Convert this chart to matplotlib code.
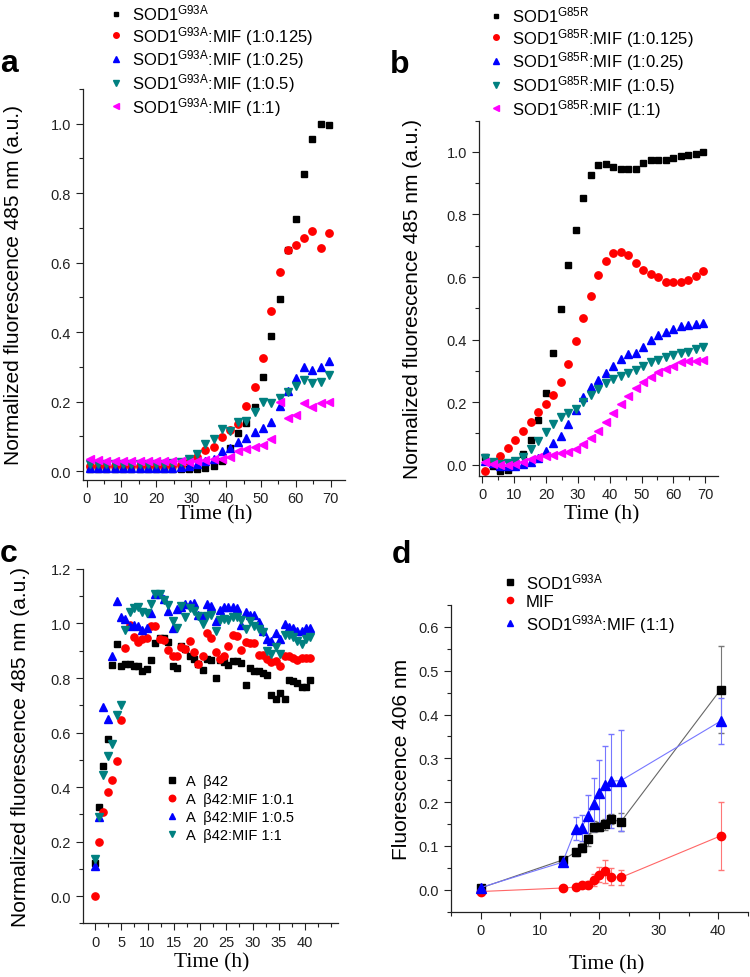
import matplotlib
matplotlib.use('Agg')
import matplotlib.pyplot as plt
from matplotlib.ticker import MultipleLocator, FormatStrFormatter

plt.rcParams['font.family'] = ['Liberation Sans', 'DejaVu Sans']
plt.rcParams['mathtext.fontset'] = 'custom'
plt.rcParams['mathtext.rm'] = 'Liberation Sans'
plt.rcParams['mathtext.it'] = 'Liberation Sans:italic'
plt.rcParams['mathtext.bf'] = 'Liberation Sans:bold'

# ---- panels a and b: sampling times (h)
time_ab = [1.0, 3.4, 5.7, 8.1, 10.4, 12.8, 15.2, 17.5, 19.9, 22.2,
           24.6, 27.0, 29.3, 31.7, 34.0, 36.4, 38.8, 41.1, 43.5, 45.8,
           48.2, 50.6, 52.9, 55.3, 57.6, 60.0, 62.4, 64.7, 67.1, 69.4]

# panel a: SOD1 G93A
a_sod = [0.007, 0.007, 0.007, 0.007, 0.007, 0.007, 0.007, 0.007, 0.007, 0.007,
         0.007, 0.007, 0.007, 0.006, 0.008, 0.015, 0.03, 0.065, 0.11, 0.138,
         0.185, 0.27, 0.39, 0.495, 0.635, 0.727, 0.854, 0.955, 1.0, 0.995]
a_0125 = [0.015, 0.015, 0.015, 0.015, 0.015, 0.015, 0.015, 0.015, 0.015, 0.015,
          0.015, 0.018, 0.025, 0.04, 0.06, 0.07, 0.097, 0.118, 0.135, 0.186,
          0.243, 0.326, 0.46, 0.573, 0.637, 0.65, 0.672, 0.69, 0.643, 0.684]
a_025 = [0.008, 0.008, 0.008, 0.008, 0.008, 0.008, 0.008, 0.008, 0.008, 0.008,
         0.008, 0.012, 0.015, 0.02, 0.03, 0.036, 0.057, 0.067, 0.083, 0.095,
         0.113, 0.125, 0.142, 0.186, 0.23, 0.267, 0.3, 0.29, 0.3, 0.318]
a_05 = [0.02, 0.02, 0.02, 0.02, 0.02, 0.02, 0.02, 0.02, 0.02, 0.02,
        0.022, 0.025, 0.035, 0.05, 0.078, 0.093, 0.12, 0.115, 0.14, 0.145,
        0.17, 0.2, 0.195, 0.21, 0.227, 0.245, 0.263, 0.252, 0.255, 0.276]
a_1 = [0.036, 0.031, 0.03, 0.03, 0.03, 0.029, 0.029, 0.029, 0.029, 0.028,
       0.028, 0.028, 0.027, 0.028, 0.032, 0.035, 0.036, 0.041, 0.057, 0.063,
       0.07, 0.076, 0.093, 0.2, 0.154, 0.16, 0.195, 0.183, 0.197, 0.198]

# panel b: SOD1 G85R
b_sod = [0.025, -0.005, -0.02, -0.018, 0.005, 0.034, 0.079, 0.142, 0.23, 0.356,
         0.497, 0.637, 0.75, 0.852, 0.925, 0.957, 0.96, 0.952, 0.946, 0.947,
         0.947, 0.965, 0.973, 0.974, 0.975, 0.98, 0.986, 0.99, 0.994, 1.0]
b_0125 = [-0.019, 0.005, 0.029, 0.054, 0.08, 0.107, 0.137, 0.169, 0.194, 0.223,
          0.266, 0.323, 0.395, 0.47, 0.54, 0.606, 0.651, 0.677, 0.68, 0.669,
          0.644, 0.624, 0.61, 0.599, 0.585, 0.583, 0.585, 0.592, 0.603, 0.62]
b_025 = [0.011, 0.004, -0.003, -0.005, -0.005, 0.002, 0.008, 0.02, 0.045, 0.071,
         0.093, 0.13, 0.175, 0.217, 0.247, 0.27, 0.293, 0.316, 0.337, 0.353,
         0.358, 0.376, 0.398, 0.414, 0.424, 0.435, 0.443, 0.447, 0.449, 0.452]
b_05 = [0.02, 0.008, 0.002, 0.004, 0.013, 0.026, 0.05, 0.077, 0.105, 0.13,
        0.151, 0.165, 0.178, 0.202, 0.223, 0.241, 0.261, 0.273, 0.284, 0.292,
        0.303, 0.316, 0.327, 0.335, 0.344, 0.35, 0.356, 0.362, 0.369, 0.376]
b_1 = [0.008, 0.002, 0.0, -0.001, 0.002, 0.01, 0.018, 0.024, 0.029, 0.032,
       0.036, 0.042, 0.05, 0.066, 0.084, 0.109, 0.137, 0.164, 0.194, 0.22,
       0.244, 0.263, 0.281, 0.295, 0.305, 0.316, 0.327, 0.332, 0.332, 0.334]

# ---- panel c: Abeta42
time_c = [0.0, 0.8, 1.6, 2.5, 3.3, 4.1, 4.9, 5.7, 6.6, 7.4,
          8.2, 9.0, 9.8, 10.7, 11.5, 12.3, 13.1, 13.9, 14.8, 15.6,
          16.4, 17.2, 18.0, 18.9, 19.7, 20.5, 21.3, 22.1, 23.0, 23.8,
          24.6, 25.4, 26.2, 27.1, 27.9, 28.7, 29.5, 30.3, 31.2, 32.0,
          32.8, 33.6, 34.4, 35.3, 36.1, 36.9, 37.7, 38.5, 39.4, 40.2, 41.0]
c_ab = [0.122, 0.328, 0.477, 0.575, 0.848, 0.926, 0.845, 0.851, 0.853, 0.845,
        0.843, 0.825, 0.832, 0.866, 0.928, 0.948, 0.948, 0.933, 0.843, 0.838,
        0.916, 0.906, 0.88, 0.87, 0.853, 0.83, 0.87, 0.865, 0.80, 0.865,
        0.858, 0.848, 0.862, 0.862, 0.855, 0.775, 0.838, 0.826, 0.826, 0.82,
        0.81, 0.737, 0.722, 0.746, 0.724, 0.793, 0.79, 0.783, 0.768, 0.768, 0.793]
c_01 = [0.0, 0.198, 0.31, 0.383, 0.425, 0.496, 0.645, 0.911, 0.994, 0.952,
        0.933, 0.943, 0.946, 0.991, 0.991, 0.943, 0.94, 0.902, 0.881, 0.879,
        0.912, 0.906, 0.936, 0.896, 0.853, 0.881, 0.965, 0.946, 0.896, 0.869,
        0.881, 0.916, 0.957, 0.955, 0.903, 0.933, 0.928, 0.928, 0.884, 0.884,
        0.869, 0.857, 0.863, 0.845, 0.881, 0.881, 0.875, 0.867, 0.873, 0.873, 0.872]
c_05 = [0.11, 0.29, 0.695, 0.651, 0.881, 1.083, 1.022, 1.018, 0.99, 0.995,
        0.99, 0.976, 0.982, 1.04, 1.11, 1.11, 1.09, 1.046, 0.985, 1.053,
        1.06, 1.073, 1.071, 1.077, 1.03, 1.028, 1.071, 1.065, 1.01, 1.05,
        1.062, 1.062, 1.062, 1.055, 0.994, 1.043, 1.03, 1.03, 1.006, 0.973,
        0.943, 0.936, 0.965, 0.943, 0.998, 0.988, 0.985, 0.973, 0.973, 0.985, 0.985]
c_1 = [0.135, 0.291, 0.443, 0.514, 0.559, 0.664, 0.70, 0.977, 1.043, 1.055,
       1.059, 1.043, 1.037, 1.071, 1.11, 1.108, 1.087, 1.067, 1.01, 0.985,
       1.065, 1.022, 1.055, 1.046, 1.028, 0.998, 1.026, 1.03, 0.973, 1.013,
       1.018, 1.013, 1.022, 1.022, 1.013, 0.979, 1.01, 0.991, 0.979, 0.969,
       0.9, 0.887, 0.912, 0.887, 0.957, 0.957, 0.952, 0.936, 0.924, 0.943, 0.949]

# ---- panel d: 406 nm fluorescence with SD
time_d = [0.0, 13.8, 16.0, 17.0, 18.0, 19.0, 20.0, 20.9, 21.9, 23.6, 40.4]
d_sod = [0.004, 0.068, 0.086, 0.096, 0.115, 0.144, 0.144, 0.149, 0.161, 0.155, 0.457]
d_sod_err = [0.005, 0.006, 0.01, 0.01, 0.015, 0.012, 0.01, 0.012, 0.012, 0.02, 0.1]
d_mif = [-0.004, 0.004, 0.006, 0.01, 0.012, 0.023, 0.034, 0.042, 0.03, 0.028, 0.123]
d_mif_err = [0.003, 0.004, 0.004, 0.005, 0.008, 0.014, 0.017, 0.027, 0.02, 0.016, 0.077]
d_mix = [0.005, 0.063, 0.139, 0.141, 0.169, 0.195, 0.22, 0.239, 0.248, 0.249, 0.385]
d_mix_err = [0.005, 0.008, 0.026, 0.03, 0.047, 0.06, 0.076, 0.09, 0.108, 0.115, 0.053]

TEAL = '#008080'
G93A = r'SOD1$^{\rm G93A}$'
G85R = r'SOD1$^{\rm G85R}$'
YLAB = 'Normalized fluorescence 485 nm (a.u.)'


def style(ax, xmaj, xmin, ymaj, ymin):
    for s in ('top', 'right'):
        ax.spines[s].set_visible(False)
    for s in ('left', 'bottom'):
        ax.spines[s].set_linewidth(0.9)
        ax.spines[s].set_color('#222222')
    ax.xaxis.set_major_locator(MultipleLocator(xmaj))
    ax.xaxis.set_minor_locator(MultipleLocator(xmin))
    ax.yaxis.set_major_locator(MultipleLocator(ymaj))
    ax.yaxis.set_minor_locator(MultipleLocator(ymin))
    ax.yaxis.set_major_formatter(FormatStrFormatter('%.1f'))
    ax.tick_params(which='major', direction='out', length=5, width=0.8,
                   labelsize=10.5, colors='#222222')
    ax.tick_params(which='minor', direction='out', length=3, width=0.8,
                   colors='#222222')


def time_label(ax, x, y):
    ax.set_xlabel('Time (h)', family=['Liberation Serif', 'DejaVu Serif'],
                  fontsize=15.5, va='center')
    ax.xaxis.set_label_coords(x, y)


def y_label(ax, text, x):
    ax.set_ylabel(text, fontsize=15, va='center')
    ax.yaxis.set_label_coords(x, 0.5)


def legend(ax, x, y, size, spacing, handles=None, labels=None, scale=0.75):
    if handles is None:
        handles, labels = ax.get_legend_handles_labels()
    leg = ax.legend(handles, labels, loc='upper left', bbox_to_anchor=(x, y),
                    bbox_transform=fig.transFigure, frameon=False, fontsize=size,
                    handlelength=0.8, handletextpad=0.55, labelspacing=spacing,
                    borderpad=0, borderaxespad=0, markerscale=scale)
    for ln in leg.get_lines():
        ln.set_linestyle('none')
    return leg


fig = plt.figure(figsize=(7.5, 9.78), dpi=100)

# ---------------- a
ax = fig.add_axes([0.1107, 0.5085, 0.349, 0.3995])
ax.plot(time_ab, a_sod, 's', color='black', ms=4.8, label=G93A)
ax.plot(time_ab, a_0125, 'o', color='red', ms=5.3, label=G93A + ':MIF (1:0.125)')
ax.plot(time_ab, a_025, '^', color='blue', ms=5.5, label=G93A + ':MIF (1:0.25)')
ax.plot(time_ab, a_05, 'v', color=TEAL, ms=5.5, label=G93A + ':MIF (1:0.5)')
ax.plot(time_ab, a_1, '<', color='magenta', ms=5.5, label=G93A + ':MIF (1:1)')
ax.set_xlim(-1, 74)
ax.set_ylim(-0.025, 1.1)
style(ax, 10, 5, 0.2, 0.1)
y_label(ax, YLAB, -0.267)
time_label(ax, 0.504, -0.087)
legend(ax, 0.146, 0.996, 12, 0.05)

# ---------------- b
ax = fig.add_axes([0.6387, 0.5126, 0.3187, 0.363])
ax.plot(time_ab, b_sod, 's', color='black', ms=4.8, label=G85R)
ax.plot(time_ab, b_0125, 'o', color='red', ms=5.3, label=G85R + ':MIF (1:0.125)')
ax.plot(time_ab, b_025, '^', color='blue', ms=5.5, label=G85R + ':MIF (1:0.25)')
ax.plot(time_ab, b_05, 'v', color=TEAL, ms=5.5, label=G85R + ':MIF (1:0.5)')
ax.plot(time_ab, b_1, '<', color='magenta', ms=5.5, label=G85R + ':MIF (1:1)')
ax.set_xlim(-1, 74)
ax.set_ylim(-0.035, 1.1)
style(ax, 10, 5, 0.2, 0.1)
y_label(ax, YLAB, -0.28)
time_label(ax, 0.515, -0.107)
legend(ax, 0.6527, 0.994, 12, 0.05)

# ---------------- c
ax = fig.add_axes([0.1107, 0.0549, 0.34, 0.3623])
ax.plot(time_c, c_ab, 's', color='black', ms=4.6, label='A  β42')
ax.plot(time_c, c_01, 'o', color='red', ms=5.2, label='A  β42:MIF 1:0.1')
ax.plot(time_c, c_05, '^', color='blue', ms=5.4, label='A  β42:MIF 1:0.5')
ax.plot(time_c, c_1, 'v', color=TEAL, ms=5.4, label='A  β42:MIF 1:1')
ax.set_xlim(-2.3, 46.3)
ax.set_ylim(-0.1, 1.2)
style(ax, 5, 2.5, 0.2, 0.1)
ax.set_xticks(range(0, 41, 5))
y_label(ax, YLAB, -0.247)
time_label(ax, 0.506, -0.11)
legend(ax, 0.222, 0.2075, 10.5, 0.28, scale=0.9)

# ---------------- d
ax = fig.add_axes([0.6013, 0.0668, 0.396, 0.3136])
ax.errorbar(time_d, d_sod, yerr=d_sod_err, fmt='-s', color='black', ms=5.5,
            lw=0.8, ecolor='#777777', elinewidth=0.8, capsize=2, label=G93A)
ax.errorbar(time_d, d_mif, yerr=d_mif_err, fmt='-o', color='red', ms=6,
            lw=0.8, ecolor='#ff7777', elinewidth=0.8, capsize=2, label='MIF')
ax.errorbar(time_d, d_mix, yerr=d_mix_err, fmt='-^', color='blue', ms=6.5,
            lw=0.8, ecolor='#7777ff', elinewidth=0.8, capsize=2,
            label=G93A + ':MIF (1:1)')
for ln in ax.get_lines():
    if ln.get_linestyle() == '-':
        c = ln.get_color()
        ln.set_color({'black': '#666666', 'red': '#ff6666', 'blue': '#7777ff'}.get(c, c))
        ln.set_markerfacecolor(c)
        ln.set_markeredgecolor(c)
ax.set_xlim(-5, 45)
ax.set_ylim(-0.05, 0.65)
style(ax, 10, 5, 0.1, 0.05)
y_label(ax, 'Fluorescence 406 nm', -0.168)
time_label(ax, 0.525, -0.17)
handles, labels = ax.get_legend_handles_labels()
legend(ax, 0.671, 0.415, 12, 0.18, handles=[h[0] for h in handles], labels=labels)

# panel letters
for letter, x, y in [('a', 9, 72), ('b', 400, 73), ('c', 9, 562), ('d', 401, 563)]:
    fig.text(x / 750, 1 - y / 978, letter, fontsize=23, fontweight='bold',
             ha='center', va='baseline')

fig.savefig('out.png', dpi=100)
